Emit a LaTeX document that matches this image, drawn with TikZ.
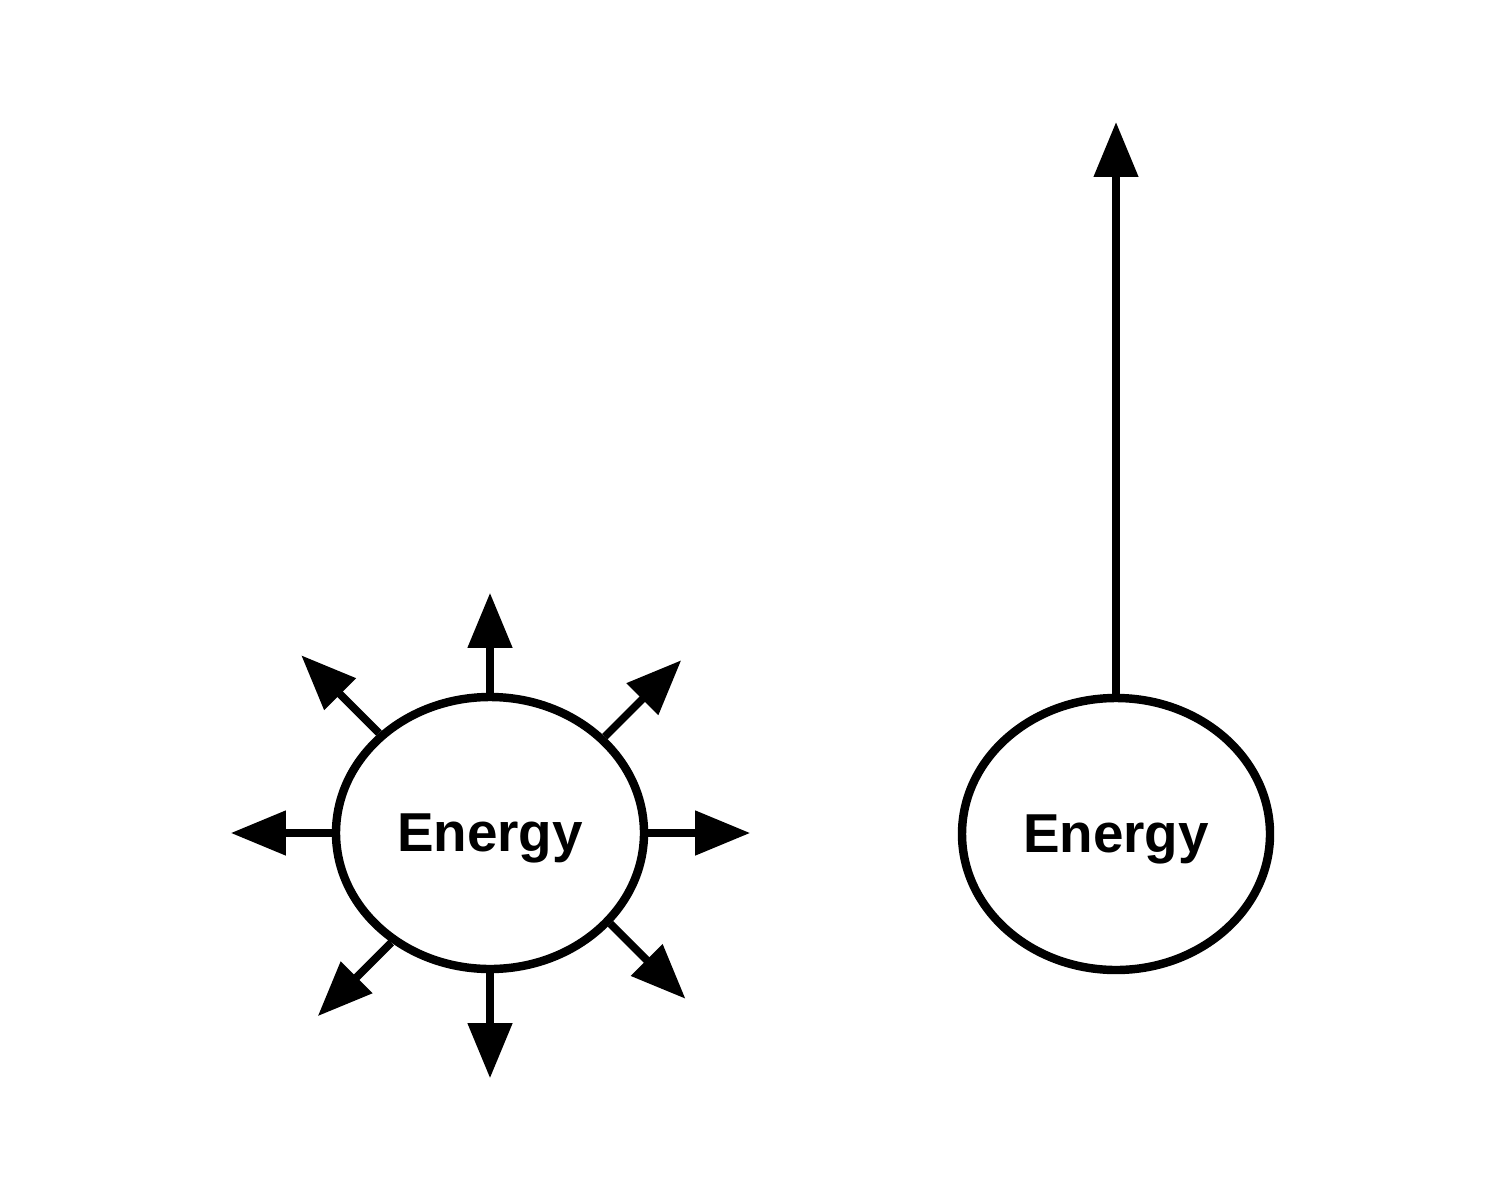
\documentclass[tikz,border=0pt]{standalone}
\usepackage{fontspec}
\setmainfont{Liberation Sans}
\usetikzlibrary{arrows.meta, positioning, shapes.geometric}

\begin{document}
\begin{tikzpicture}[
    blob/.style={draw, ellipse, line width=2.4pt, minimum width=3.08cm, minimum height=2.72cm,
      font=\fontsize{15.6}{18}\selectfont\bfseries, text depth=0pt},
    ray/.style={line width=2.2pt, -{Triangle[length=0.55cm, width=0.43cm]}}
  ]
  \useasboundingbox (0,0) rectangle (15.02,12);
  % radiating energy
  \node[blob] (spread) at (4.90,3.67) {Energy};
  \foreach \bord/\ang/\len in {90/90/1.00, 40/45/1.08, 0/0/1.02, -37/-45/1.06,
                               -90/-90/1.05, 228/-135/1.04, 180/180/1.01, 138/135/1.10} {
    \path (spread.\bord) ++(\ang:\len) coordinate (tip\bord);
    \draw[ray] (spread.\bord) -- (tip\bord);
  }
  % directed energy
  \node[blob] (aimed) at (11.16,3.66) {Energy};
  \coordinate (beam) at (11.16,10.78);
  \draw[ray] (aimed.north) -- (beam);
\end{tikzpicture}
\end{document}
